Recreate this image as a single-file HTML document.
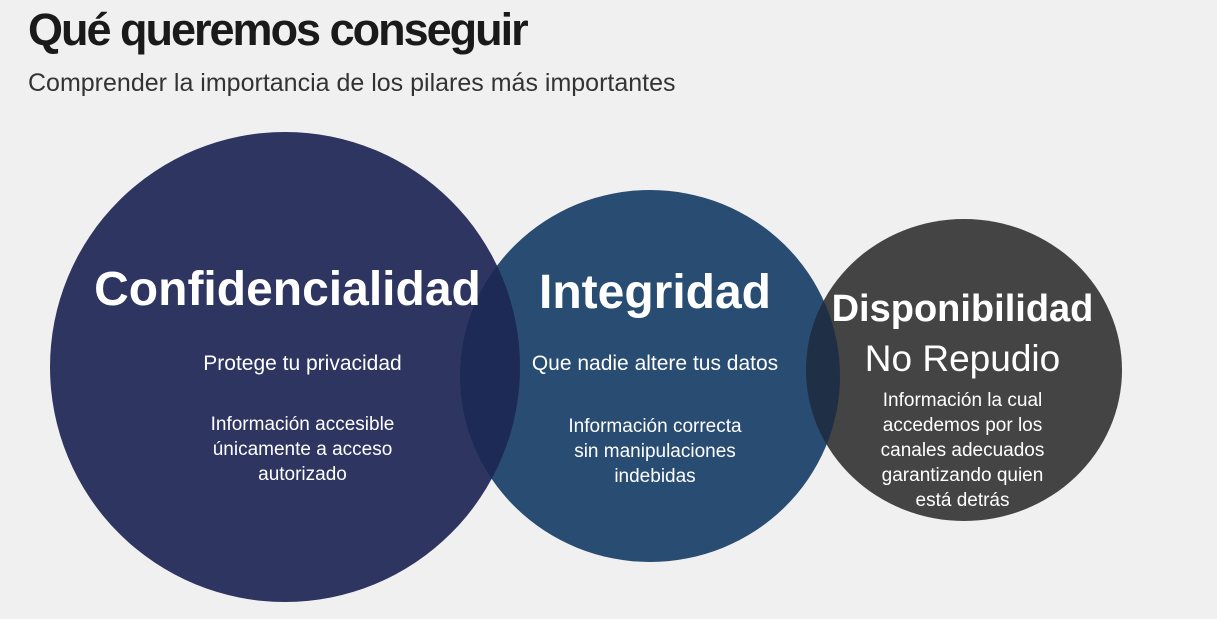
<!DOCTYPE html>
<html><head><meta charset="utf-8"><style>
body{margin:0;width:1217px;height:619px;background:#f0f0f0;overflow:hidden;font-family:"Liberation Sans",sans-serif;position:relative}
.t{position:absolute;left:28px;top:4px;font-size:45px;font-weight:bold;color:#1a1a1a;letter-spacing:-2px}
.s{position:absolute;left:28px;top:69px;font-size:25px;color:#333}
.x{position:absolute;color:#fff;text-align:center;white-space:nowrap}
svg{position:absolute;left:0;top:0}
</style></head><body>
<svg width="1217" height="619">
<defs>
<clipPath id="a"><circle cx="285" cy="367" r="235"/></clipPath>
<clipPath id="b"><ellipse cx="650" cy="376" rx="190" ry="186"/></clipPath>
</defs>
<circle cx="285" cy="367" r="235" fill="#2d3560"/>
<ellipse cx="650" cy="376" rx="190" ry="186" fill="#284c72"/>
<ellipse cx="650" cy="376" rx="190" ry="186" fill="#1c2a55" clip-path="url(#a)"/>
<ellipse cx="964" cy="370" rx="158" ry="151" fill="#444"/>
<ellipse cx="964" cy="370" rx="158" ry="151" fill="#1f2f45" clip-path="url(#b)"/>
</svg>
<div class="t">Qué queremos conseguir</div>
<div class="s">Comprender la importancia de los pilares más importantes</div>
<div class="x" style="left:90px;width:395px;top:262px;font-size:48px;font-weight:bold">Confidencialidad</div>
<div class="x" style="left:150px;width:305px;top:352px;font-size:21px">Protege tu privacidad</div>
<div class="x" style="left:150px;width:305px;top:412px;font-size:19px;line-height:25px">Información accesible<br>únicamente a acceso<br>autorizado</div>
<div class="x" style="left:510px;width:290px;top:265px;font-size:48px;font-weight:bold">Integridad</div>
<div class="x" style="left:505px;width:300px;top:352px;font-size:21px">Que nadie altere tus datos</div>
<div class="x" style="left:505px;width:300px;top:414px;font-size:19px;line-height:25px">Información correcta<br>sin manipulaciones<br>indebidas</div>
<div class="x" style="left:815px;width:295px;top:288px;font-size:38px;font-weight:bold">Disponibilidad</div>
<div class="x" style="left:815px;width:295px;top:338px;font-size:37px">No Repudio</div>
<div class="x" style="left:815px;width:295px;top:388px;font-size:19px;line-height:25px">Información la cual<br>accedemos por los<br>canales adecuados<br>garantizando quien<br>está detrás</div>
</body></html>
